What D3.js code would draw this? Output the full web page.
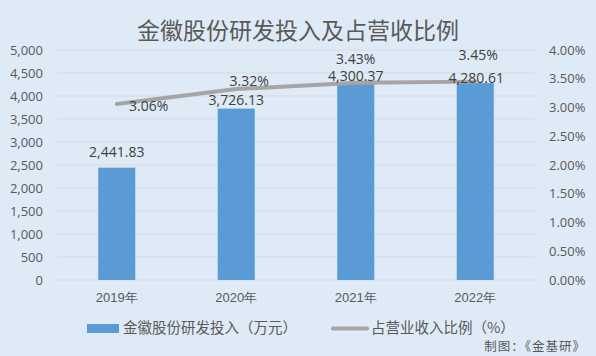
<!DOCTYPE html>
<html><head><meta charset="utf-8">
<script src="https://cdn.jsdelivr.net/npm/d3@7/dist/d3.min.js"></script>
<style>
html,body{margin:0;padding:0;background:#DEEAF6;}
svg{display:block;font-family:"Noto Sans CJK SC","Noto Sans",sans-serif;}
</style></head><body>
<svg id="c" width="596" height="356"></svg>
<script>
const categories = ["2019年","2020年","2021年","2022年"];
const rdValues = [2441.83, 3726.13, 4300.37, 4280.61];
const rdLabels = ["2,441.83","3,726.13","4,300.37","4,280.61"];
const ratioValues = [3.06, 3.32, 3.43, 3.45];
const ratioLabels = ["3.06%","3.32%","3.43%","3.45%"];
const leftTicks = [0,500,1000,1500,2000,2500,3000,3500,4000,4500,5000];
const rightTicks = [0,0.5,1,1.5,2,2.5,3,3.5,4];
const title = "金徽股份研发投入及占营收比例";
const legendBar = "金徽股份研发投入（万元）";
const legendLine = "占营业收入比例（%）";
const source = "制图：《金基研》";

const svg = d3.select("#c");
svg.append("rect").attr("width",596).attr("height",356).attr("fill","#DEEAF6");

const L = 57, R = 535, T = 50, B = 280;
const x = d3.scaleBand().domain(categories).range([L,R]).paddingInner(0.69).paddingOuter(0.345);
const xc = d => x(d) + x.bandwidth()/2;
const yL = d3.scaleLinear().domain([0,5000]).range([B,T]);
const yR = d3.scaleLinear().domain([0,4]).range([B,T]);

// gridlines
svg.append("g").selectAll("line").data(leftTicks).join("line")
  .attr("x1",L).attr("x2",R).attr("y1",d=>yL(d)).attr("y2",d=>yL(d))
  .attr("stroke","#D9D9D9").attr("stroke-width",1);

const numFont = "'Open Sans','Noto Sans',sans-serif";
// left axis
const fmt = d3.format(",");
const gl = svg.append("g").attr("transform",`translate(${L-14},0)`)
  .call(d3.axisLeft(yL).tickValues(leftTicks).tickFormat(fmt).tickSize(0).tickPadding(0));
gl.select(".domain").remove();
gl.selectAll("text").attr("fill","#595959").style("font-size","13px").style("font-family",numFont);

// right axis
const gr = svg.append("g").attr("transform",`translate(${R+14},0)`)
  .call(d3.axisRight(yR).tickValues(rightTicks).tickFormat(d=>d3.format(".2f")(d)+"%").tickSize(0).tickPadding(0));
gr.select(".domain").remove();
gr.selectAll("text").attr("fill","#595959").style("font-size","13px").style("font-family",numFont);

// x axis
const gx = svg.append("g").attr("transform",`translate(0,${B})`)
  .call(d3.axisBottom(x).tickSize(0).tickPadding(13));
gx.select(".domain").remove();
gx.selectAll("text").attr("fill","#595959").style("font-size","13px");

// bars
svg.append("g").selectAll("rect").data(rdValues).join("rect")
  .attr("x",(d,i)=>x(categories[i])).attr("width",x.bandwidth())
  .attr("y",d=>yL(d)).attr("height",d=>B-yL(d)).attr("fill","#5B9BD5");

// line
const line = d3.line().x((d,i)=>xc(categories[i])).y(d=>yR(d));
svg.append("path").datum(ratioValues).attr("d",line)
  .attr("fill","none").attr("stroke","#A5A5A5").attr("stroke-width",4).attr("stroke-linecap","round");

// bar labels
const bdy = [-11, -4, -1, 0];
svg.append("g").selectAll("text").data(rdValues).join("text")
  .attr("x",(d,i)=>xc(categories[i]) + (i===3?1:0))
  .attr("y",(d,i)=>yL(d)+bdy[i])
  .attr("text-anchor","middle").attr("fill","#404040")
  .style("font-size","14px").style("font-family",numFont).text((d,i)=>rdLabels[i]);

// ratio labels
const rdx = [32, 13, 0, 3];
const rdy = [7, -3, -19, -22];
svg.append("g").selectAll("text").data(ratioValues).join("text")
  .attr("x",(d,i)=>xc(categories[i])+rdx[i])
  .attr("y",(d,i)=>yR(d)+rdy[i])
  .attr("text-anchor","middle").attr("fill","#404040")
  .style("font-size","14px").style("font-family",numFont).text((d,i)=>ratioLabels[i]);

// title
svg.append("text").attr("x",298).attr("y",39).attr("text-anchor","middle")
  .attr("fill","#595959").style("font-size","23px").text(title);

// legend
svg.append("rect").attr("x",87).attr("y",324).attr("width",32).attr("height",9).attr("fill","#5B9BD5");
svg.append("text").attr("x",123).attr("y",333).attr("fill","#595959").style("font-size","14.5px").text(legendBar);
svg.append("line").attr("x1",333).attr("x2",367).attr("y1",328.5).attr("y2",328.5)
  .attr("stroke","#A5A5A5").attr("stroke-width",4).attr("stroke-linecap","round");
svg.append("text").attr("x",371).attr("y",333).attr("fill","#595959").style("font-size","14.5px").text(legendLine);

// source
svg.append("text").attr("x",586).attr("y",351).attr("text-anchor","end")
  .attr("fill","#595959").style("font-size","12.5px").style("letter-spacing","1px").text(source);
</script>
</body></html>
